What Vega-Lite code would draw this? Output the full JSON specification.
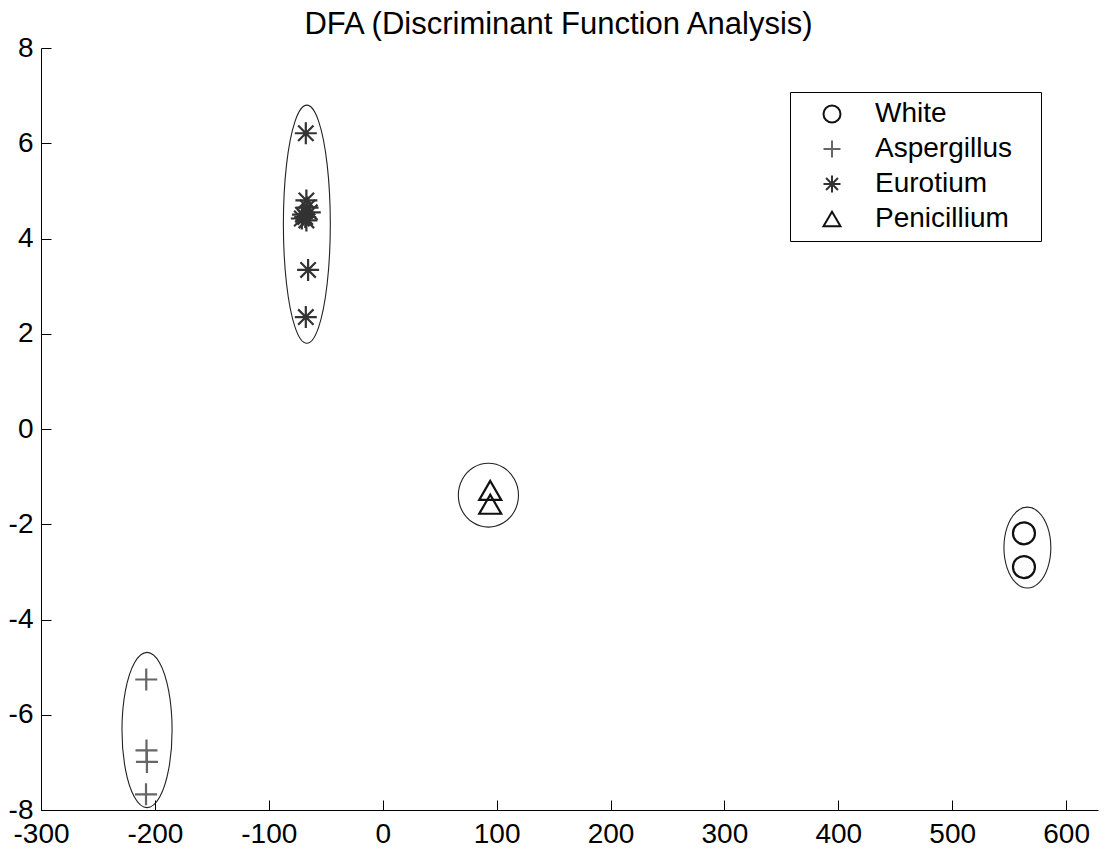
{
  "$schema": "https://vega.github.io/schema/vega-lite/v6.json",
  "autosize": "none",
  "width": 1057,
  "height": 762,
  "padding": {"left": 41, "top": 48, "right": 8, "bottom": 45},
  "background": "white",
  "title": {
    "text": "DFA (Discriminant Function Analysis)",
    "font": "Liberation Sans",
    "fontSize": 31,
    "fontWeight": "normal",
    "color": "#000000",
    "offset": -7,
    "dx": -11
  },
  "datasets": {
    "samples": [
      {"group": "White", "x": 563.0, "y": -2.19},
      {"group": "White", "x": 563.0, "y": -2.90},
      {"group": "Aspergillus", "x": -207.6, "y": -5.26},
      {"group": "Aspergillus", "x": -207.4, "y": -6.75},
      {"group": "Aspergillus", "x": -207.0, "y": -6.99},
      {"group": "Aspergillus", "x": -207.8, "y": -7.67},
      {"group": "Eurotium", "x": -67.5, "y": 6.21},
      {"group": "Eurotium", "x": -67.0, "y": 4.80},
      {"group": "Eurotium", "x": -66.0, "y": 4.65},
      {"group": "Eurotium", "x": -64.0, "y": 4.55},
      {"group": "Eurotium", "x": -70.0, "y": 4.50},
      {"group": "Eurotium", "x": -68.0, "y": 4.45},
      {"group": "Eurotium", "x": -71.0, "y": 4.42},
      {"group": "Eurotium", "x": -67.0, "y": 4.38},
      {"group": "Eurotium", "x": -65.5, "y": 3.34},
      {"group": "Eurotium", "x": -67.5, "y": 2.35},
      {"group": "Penicillium", "x": 94.4, "y": -1.29},
      {"group": "Penicillium", "x": 94.4, "y": -1.58}
    ],
    "ellipses": [
      {"group": "Eurotium", "i": 0, "x": -46.0, "y": 4.30},
      {"group": "Eurotium", "i": 1, "x": -48.76, "y": 5.55},
      {"group": "Eurotium", "i": 2, "x": -56.3, "y": 6.465},
      {"group": "Eurotium", "i": 3, "x": -66.6, "y": 6.80},
      {"group": "Eurotium", "i": 4, "x": -76.9, "y": 6.465},
      {"group": "Eurotium", "i": 5, "x": -84.44, "y": 5.55},
      {"group": "Eurotium", "i": 6, "x": -87.2, "y": 4.30},
      {"group": "Eurotium", "i": 7, "x": -84.44, "y": 3.05},
      {"group": "Eurotium", "i": 8, "x": -76.9, "y": 2.135},
      {"group": "Eurotium", "i": 9, "x": -66.6, "y": 1.80},
      {"group": "Eurotium", "i": 10, "x": -56.3, "y": 2.135},
      {"group": "Eurotium", "i": 11, "x": -48.76, "y": 3.05},
      {"group": "Aspergillus", "i": 0, "x": -184.9, "y": -6.32},
      {"group": "Aspergillus", "i": 1, "x": -187.85, "y": -5.505},
      {"group": "Aspergillus", "i": 2, "x": -195.9, "y": -4.908},
      {"group": "Aspergillus", "i": 3, "x": -206.9, "y": -4.69},
      {"group": "Aspergillus", "i": 4, "x": -217.9, "y": -4.908},
      {"group": "Aspergillus", "i": 5, "x": -225.95, "y": -5.505},
      {"group": "Aspergillus", "i": 6, "x": -228.9, "y": -6.32},
      {"group": "Aspergillus", "i": 7, "x": -225.95, "y": -7.135},
      {"group": "Aspergillus", "i": 8, "x": -217.9, "y": -7.732},
      {"group": "Aspergillus", "i": 9, "x": -206.9, "y": -7.95},
      {"group": "Aspergillus", "i": 10, "x": -195.9, "y": -7.732},
      {"group": "Aspergillus", "i": 11, "x": -187.85, "y": -7.135},
      {"group": "Penicillium", "i": 0, "x": 119.2, "y": -1.39},
      {"group": "Penicillium", "i": 1, "x": 115.66, "y": -1.055},
      {"group": "Penicillium", "i": 2, "x": 106.0, "y": -0.81},
      {"group": "Penicillium", "i": 3, "x": 92.8, "y": -0.72},
      {"group": "Penicillium", "i": 4, "x": 79.6, "y": -0.81},
      {"group": "Penicillium", "i": 5, "x": 69.94, "y": -1.055},
      {"group": "Penicillium", "i": 6, "x": 66.4, "y": -1.39},
      {"group": "Penicillium", "i": 7, "x": 69.94, "y": -1.725},
      {"group": "Penicillium", "i": 8, "x": 79.6, "y": -1.97},
      {"group": "Penicillium", "i": 9, "x": 92.8, "y": -2.06},
      {"group": "Penicillium", "i": 10, "x": 106.0, "y": -1.97},
      {"group": "Penicillium", "i": 11, "x": 115.66, "y": -1.725},
      {"group": "White", "i": 0, "x": 586.6, "y": -2.49},
      {"group": "White", "i": 1, "x": 583.84, "y": -2.065},
      {"group": "White", "i": 2, "x": 576.3, "y": -1.754},
      {"group": "White", "i": 3, "x": 566.0, "y": -1.64},
      {"group": "White", "i": 4, "x": 555.7, "y": -1.754},
      {"group": "White", "i": 5, "x": 548.16, "y": -2.065},
      {"group": "White", "i": 6, "x": 545.4, "y": -2.49},
      {"group": "White", "i": 7, "x": 548.16, "y": -2.915},
      {"group": "White", "i": 8, "x": 555.7, "y": -3.226},
      {"group": "White", "i": 9, "x": 566.0, "y": -3.34},
      {"group": "White", "i": 10, "x": 576.3, "y": -3.226},
      {"group": "White", "i": 11, "x": 583.84, "y": -2.915}
    ]
  },
  "layer": [
    {
      "data": {"name": "ellipses"},
      "mark": {"type": "line", "interpolate": "cardinal-closed", "stroke": "#222222", "strokeWidth": 1.1},
      "encoding": {
        "x": {"field": "x", "type": "quantitative"},
        "y": {"field": "y", "type": "quantitative"},
        "detail": {"field": "group"},
        "order": {"field": "i", "type": "quantitative"}
      }
    },
    {
      "data": {"name": "samples"},
      "mark": {"type": "point", "filled": false, "strokeWidth": 2.2, "size": 484, "opacity": 1},
      "encoding": {
        "x": {"field": "x", "type": "quantitative"},
        "y": {"field": "y", "type": "quantitative"},
        "shape": {
          "field": "group",
          "type": "nominal",
          "scale": {
            "domain": ["White", "Aspergillus", "Eurotium", "Penicillium"],
            "range": ["circle", "M-1,0L1,0M0,-1L0,1", "M-1,0L1,0M0,-1L0,1M-0.7,-0.7L0.7,0.7M-0.7,0.7L0.7,-0.7", "triangle-up"]
          },
          "legend": {
            "orient": "none",
            "legendX": 749,
            "legendY": 44,
            "title": null,
            "strokeColor": "#000000",
            "fillColor": "#ffffff",
            "padding": 8,
            "symbolSize": 289,
            "symbolStrokeWidth": 2,
            "symbolOffset": 20,
            "labelOffset": 29,
            "rowPadding": 7,
            "labelFont": "Liberation Sans",
            "labelFontSize": 28,
            "labelColor": "#000000",
            "labelLimit": 400,
            "labelExpr": "datum.label + '\u2800'"
          }
        },
        "color": {
          "field": "group",
          "type": "nominal",
          "scale": {
            "domain": ["White", "Aspergillus", "Eurotium", "Penicillium"],
            "range": ["#111111", "#666666", "#333333", "#111111"]
          },
          "legend": {
            "orient": "none",
            "legendX": 749,
            "legendY": 44,
            "title": null,
            "strokeColor": "#000000",
            "fillColor": "#ffffff",
            "padding": 8,
            "symbolSize": 289,
            "symbolStrokeWidth": 2,
            "symbolOffset": 20,
            "labelOffset": 29,
            "rowPadding": 7,
            "labelFont": "Liberation Sans",
            "labelFontSize": 28,
            "labelColor": "#000000",
            "labelLimit": 400,
            "labelExpr": "datum.label + '\u2800'"
          }
        }
      }
    }
  ],
  "resolve": {"scale": {"x": "shared", "y": "shared"}},
  "encoding": {
    "x": {
      "field": "x",
      "type": "quantitative",
      "scale": {"domain": [-300, 628], "nice": false, "zero": false},
      "axis": {
        "title": null,
        "values": [-300, -200, -100, 0, 100, 200, 300, 400, 500, 600],
        "labelExpr": "'' + datum.value",
        "grid": false,
        "tickSize": -10,
        "labelPadding": 20,
        "labelFlush": false,
        "labelOverlap": false
      }
    },
    "y": {
      "field": "y",
      "type": "quantitative",
      "scale": {"domain": [-8, 8], "nice": false, "zero": false},
      "axis": {
        "title": null,
        "values": [-8, -6, -4, -2, 0, 2, 4, 6, 8],
        "labelExpr": "'' + datum.value",
        "grid": false,
        "tickSize": -10,
        "labelPadding": 18,
        "labelFlush": false,
        "labelOverlap": false
      }
    }
  },
  "config": {
    "view": {"stroke": null},
    "axis": {
      "domainColor": "#000000",
      "domainWidth": 1,
      "tickColor": "#000000",
      "tickWidth": 1,
      "labelFont": "Liberation Sans",
      "labelFontSize": 28,
      "labelColor": "#000000"
    }
  }
}
